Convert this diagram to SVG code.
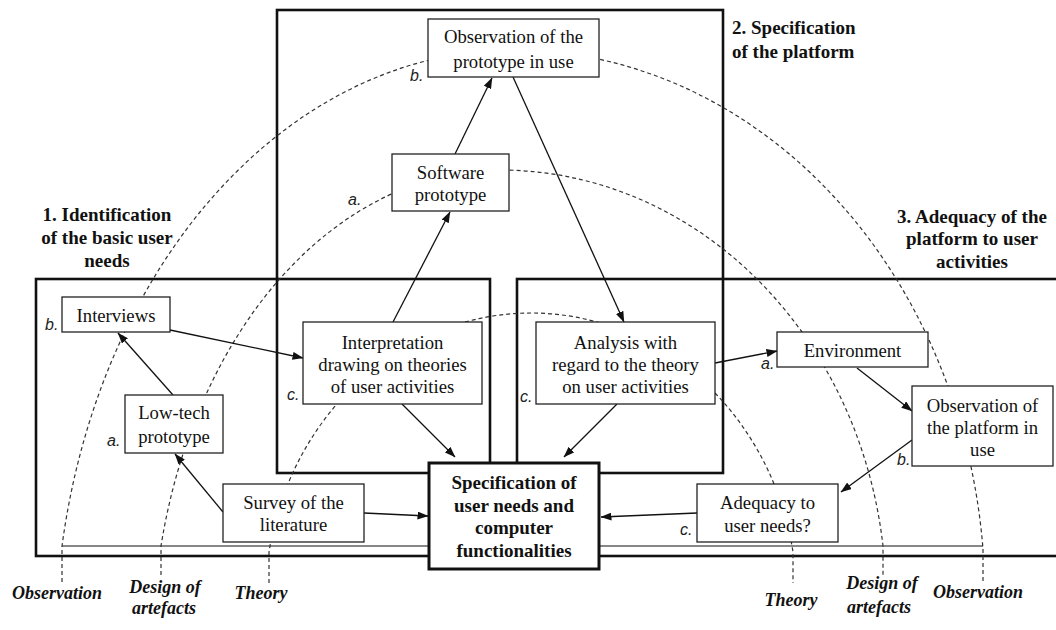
<svg xmlns="http://www.w3.org/2000/svg" width="1056" height="630" viewBox="0 0 1056 630">
<style>
.frame{fill:none;stroke:#111;stroke-width:2.6}
.arc{fill:none;stroke:#333;stroke-width:1.2;stroke-dasharray:4 3}
.node rect{fill:#fff;stroke:#222;stroke-width:1.3}
.t{font-family:"Liberation Serif","Times New Roman",serif;font-size:18.7px;fill:#111;text-anchor:middle}
.tb{font-family:"Liberation Serif","Times New Roman",serif;font-size:19px;font-weight:bold;fill:#111;text-anchor:middle}
.lab{font-family:"Liberation Sans",Arial,sans-serif;font-size:16px;font-style:italic;fill:#222}
.ax{font-family:"Liberation Serif","Times New Roman",serif;font-size:18px;font-weight:bold;font-style:italic;fill:#111;text-anchor:middle}
.conn line{stroke:#111;stroke-width:1.3;marker-end:url(#ah)}
</style>
<defs>
<marker id="ah" markerWidth="11" markerHeight="8" refX="10.5" refY="4" orient="auto" markerUnits="userSpaceOnUse"><path d="M0,0 L11,4 L0,8 z" fill="#111"/></marker>
</defs>
<rect width="1056" height="630" fill="#fff"/>
<g id="frames">
<rect class="frame" x="277" y="10" width="446" height="463"/>
<rect class="frame" x="36" y="279" width="454" height="277"/>
<rect class="frame" x="517" y="279" width="560" height="277"/>
<line x1="62" y1="546" x2="983" y2="546" stroke="#111" stroke-width="1.2"/>
</g>
<g id="headings">
<text class="tb"><tspan x="107" y="221">1. Identification</tspan><tspan x="107" y="244">of the basic user</tspan><tspan x="107" y="267">needs</tspan></text>
<text class="tb" style="text-anchor:start"><tspan x="732" y="34">2. Specification</tspan><tspan x="732" y="58">of the platform</tspan></text>
<text class="tb"><tspan x="972" y="223">3. Adequacy of the</tspan><tspan x="972" y="245">platform to user</tspan><tspan x="972" y="268">activities</tspan></text>
</g>
<g id="arcs">
<path class="arc" d="M62 582 L62 546 A458 600 0 0 1 513 50 A472 550 0 0 1 983 549 L983 582"/>
<path class="arc" d="M161 575 L161 546 A347.3 480 0 0 1 500 170 A386 430 0 0 1 883 546 L883 575"/>
<path class="arc" d="M269 583 L269 552 A266 287 0 0 1 531 313 A266 287 0 0 1 793 552 L793 583"/>
</g>
<g id="axis-labels">
<text class="ax" x="57" y="599">Observation</text>
<text class="ax"><tspan x="165" y="593">Design of</tspan><tspan x="164" y="614">artefacts</tspan></text>
<text class="ax" x="261" y="599">Theory</text>
<text class="ax" x="791" y="606">Theory</text>
<text class="ax"><tspan x="882" y="589">Design of</tspan><tspan x="879" y="613">artefacts</tspan></text>
<text class="ax" x="978" y="598">Observation</text>
</g>
<g id="connectors" class="conn">
<line x1="455" y1="154" x2="492" y2="78"/>
<line x1="393" y1="322" x2="450" y2="212"/>
<line x1="513" y1="77" x2="624" y2="322"/>
<line x1="170" y1="330" x2="303" y2="358"/>
<line x1="173" y1="395" x2="118" y2="333"/>
<line x1="223" y1="512" x2="175" y2="454"/>
<line x1="364" y1="513" x2="428" y2="516"/>
<line x1="402" y1="404" x2="455" y2="457"/>
<line x1="617" y1="404" x2="564" y2="457"/>
<line x1="715" y1="363" x2="777" y2="351"/>
<line x1="857" y1="368" x2="912" y2="411"/>
<line x1="912" y1="440" x2="841" y2="492"/>
<line x1="697" y1="513" x2="601" y2="517"/>
</g>
<g id="n-obs-proto" class="node"><rect x="428" y="19" width="171" height="58"/><text class="t"><tspan x="513.5" y="43">Observation of the</tspan><tspan x="513.5" y="68">prototype in use</tspan></text></g>
<g id="n-software" class="node"><rect x="392" y="154" width="117" height="57"/><text class="t"><tspan x="450.5" y="179">Software</tspan><tspan x="450.5" y="201">prototype</tspan></text></g>
<g id="n-interviews" class="node"><rect x="62" y="297" width="108" height="35"/><text class="t" x="116" y="322">Interviews</text></g>
<g id="n-lowtech" class="node"><rect x="125" y="395" width="98" height="58"/><text class="t"><tspan x="174" y="419">Low-tech</tspan><tspan x="174" y="443">prototype</tspan></text></g>
<g id="n-survey" class="node"><rect x="223" y="484" width="141" height="58"/><text class="t"><tspan x="293.5" y="509">Survey of the</tspan><tspan x="293.5" y="531">literature</tspan></text></g>
<g id="n-interp" class="node"><rect x="303" y="322" width="179" height="82"/><text class="t"><tspan x="392.5" y="349">Interpretation</tspan><tspan x="392.5" y="371">drawing on theories</tspan><tspan x="392.5" y="393">of user activities</tspan></text></g>
<g id="n-analysis" class="node"><rect x="536" y="322" width="179" height="82"/><text class="t"><tspan x="625.5" y="349">Analysis with</tspan><tspan x="625.5" y="371">regard to the theory</tspan><tspan x="625.5" y="393">on user activities</tspan></text></g>
<g id="n-env" class="node"><rect x="777" y="332" width="151" height="35"/><text class="t" x="852.5" y="357">Environment</text></g>
<g id="n-obs-platform" class="node"><rect x="912" y="386" width="141" height="80"/><text class="t"><tspan x="982.5" y="412">Observation of</tspan><tspan x="982.5" y="434">the platform in</tspan><tspan x="982.5" y="456">use</tspan></text></g>
<g id="n-adequacy" class="node"><rect x="697" y="484" width="141" height="58"/><text class="t"><tspan x="767.5" y="509">Adequacy to</tspan><tspan x="767.5" y="532">user needs?</tspan></text></g>
<g id="n-spec" class="node"><rect x="429" y="463" width="170" height="106" style="stroke:#111;stroke-width:3"/><text class="tb"><tspan x="514" y="489">Specification of</tspan><tspan x="514" y="512">user needs and</tspan><tspan x="514" y="534">computer</tspan><tspan x="514" y="557">functionalities</tspan></text></g>
<g id="labels">
<text class="lab" x="410" y="81">b.</text>
<text class="lab" x="348" y="205">a.</text>
<text class="lab" x="45" y="330">b.</text>
<text class="lab" x="107" y="446">a.</text>
<text class="lab" x="287" y="400">c.</text>
<text class="lab" x="520" y="402">c.</text>
<text class="lab" x="761" y="369">a.</text>
<text class="lab" x="897" y="465">b.</text>
<text class="lab" x="680" y="535">c.</text>
</g>
</svg>
